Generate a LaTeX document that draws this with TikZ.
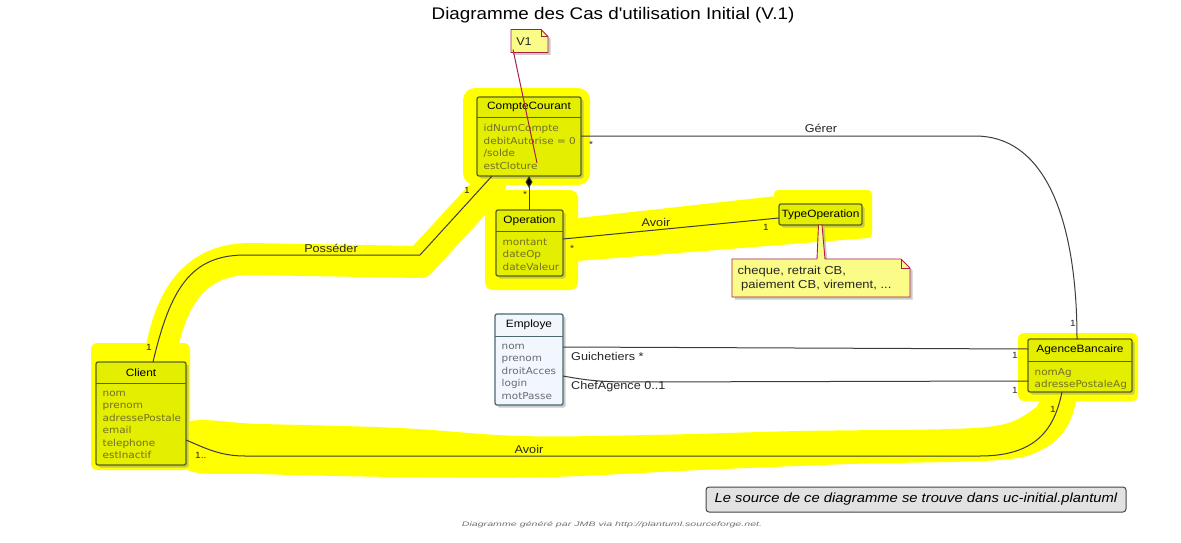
\documentclass[tikz,border=0pt]{standalone}
\usepackage{fontspec}
\setmainfont{Liberation Sans}[FakeStretch=1.12,Ligatures=TeXOff]
\newfontfamily\attrfont{DejaVu Sans}[FakeStretch=1.1]
\newfontfamily\tinyfont{Liberation Sans}[FakeStretch=1.64]
\usetikzlibrary{calc,shadows,arrows.meta}
\definecolor{hl}{RGB}{255,255,0}
\definecolor{clsfill}{RGB}{228,238,0}
\definecolor{clsline}{RGB}{90,100,20}
\definecolor{attrcol}{RGB}{112,112,40}
\definecolor{empfill}{RGB}{241,247,253}
\definecolor{empline}{RGB}{75,105,110}
\definecolor{empattr}{RGB}{105,105,115}
\definecolor{notefill}{RGB}{251,251,135}
\definecolor{noteline}{RGB}{170,30,70}
\definecolor{conncol}{RGB}{60,60,60}
\definecolor{boxfill}{RGB}{226,226,226}
\definecolor{boxline}{RGB}{70,70,70}
\definecolor{multcol}{RGB}{40,40,40}
\begin{document}
\begin{tikzpicture}[x=1pt,y=-1pt,
  shad/.style={drop shadow={shadow xshift=2.5pt,shadow yshift=-2.5pt,fill=black!45,opacity=0.45}},
  clsbox/.style={draw=clsline,line width=1.3pt,fill=clsfill,rounded corners=2pt,inner sep=0pt,outer sep=0pt,shad},
  empbox/.style={draw=empline,line width=1.3pt,fill=empfill,rounded corners=2pt,inner sep=0pt,outer sep=0pt,shad},
  clsname/.style={font=\fontsize{10.6}{12}\selectfont,inner sep=0pt,text=black},
  attr/.style={font=\attrfont\fontsize{9.5}{12.5}\selectfont,align=left,inner sep=0pt,anchor=north west,text=attrcol},
  mult/.style={font=\fontsize{9}{10}\selectfont,inner sep=0pt,text=multcol},
  lbl/.style={font=\fontsize{11.3}{13}\selectfont,inner sep=0pt,text=black!85},
  conn/.style={draw=conncol,line width=1pt},
  notepoly/.style={draw=noteline,line width=0.9pt,fill=notefill,shad},
  ghost/.style={inner sep=0pt,outer sep=0pt}
]
\useasboundingbox (0,0) rectangle (1181,543);
\fill[white] (0,0) rectangle (1181,543);

% ---------- highlighter marks ----------
\fill[hl,rounded corners=12pt] (463,88) rectangle (590,185);
\draw[hl,line width=32pt,line cap=round,line join=round] (158,372) .. controls (166,305) and (190,259) .. (250,259) -- (420,262) -- (490,186);
\fill[hl,rounded corners=8pt] (485,190) rectangle (578,290);
\fill[hl] (560,220) -- (776,196) -- (870,192) -- (868,238) -- (565,262) -- cycle;
\fill[hl,rounded corners=4pt] (774,190) rectangle (872,238);
\fill[hl,rounded corners=6pt] (91,343) rectangle (190,470);
\fill[hl] plot[smooth cycle,tension=0.55] coordinates {(186,423) (260,424) (400,428) (520,436) (650,435) (800,431) (950,429) (1005,424) (1035,408) (1045,394) (1075,394) (1068,425) (1045,448) (1000,460) (850,464) (700,470) (550,477) (400,477) (260,474) (186,469)};
\fill[hl,rounded corners=6pt] (1018,333) rectangle (1138,401);

% ---------- title ----------
\node[font=\fontsize{16.8}{20}\selectfont,inner sep=0pt] (title) at (613,15) {Diagramme des Cas d'utilisation Initial (V.1)};

% ---------- class boxes ----------
\node[clsbox,minimum width=104pt,minimum height=79pt] (cc) at (529,136.5) {};
\node[clsbox,minimum width=67pt,minimum height=66pt] (op) at (529.5,243) {};
\node[clsbox,minimum width=83pt,minimum height=21pt] (to) at (820.5,214.5) {};
\node[empbox,minimum width=68pt,minimum height=91pt] (emp) at (529,359.5) {};
\node[clsbox,minimum width=104pt,minimum height=53pt] (ab) at (1080,365.5) {};
\node[clsbox,minimum width=90pt,minimum height=103pt] (cl) at (141,413.5) {};

% separators
\draw[draw=clsline,line width=1pt] ($(cc.north west)+(0,20)$) -- ($(cc.north east)+(0,20)$);
\draw[draw=clsline,line width=1pt] ($(op.north west)+(0,21)$) -- ($(op.north east)+(0,21)$);
\draw[draw=empline,line width=1pt] ($(emp.north west)+(0,22)$) -- ($(emp.north east)+(0,22)$);
\draw[draw=clsline,line width=1pt] ($(ab.north west)+(0,22)$) -- ($(ab.north east)+(0,22)$);
\draw[draw=clsline,line width=1pt] ($(cl.north west)+(0,21)$) -- ($(cl.north east)+(0,21)$);

% class names
\node[clsname] (ccn) at ($(cc.north)+(0,10)$) {CompteCourant};
\node[clsname] (opn) at ($(op.north)+(0,10.5)$) {Operation};
\node[clsname] (ton) at (to.center) {TypeOperation};
\node[clsname] (empn) at ($(emp.north)+(0,11)$) {Employe};
\node[clsname] (abn) at ($(ab.north)+(0,11)$) {AgenceBancaire};
\node[clsname] (cln) at ($(cl.north)+(0,10.5)$) {Client};

% attributes
\node[attr] (cca) at ($(cc.north west)+(6.5,27.5)$) {idNumCompte\\debitAutorise = 0\\/solde\\estCloture};
\node[attr] (opa) at ($(op.north west)+(6.5,28.5)$) {montant\\dateOp\\dateValeur};
\node[attr,text=empattr] (empa) at ($(emp.north west)+(6.5,29.5)$) {nom\\prenom\\droitAcces\\login\\motPasse};
\node[attr] (aba) at ($(ab.north west)+(6.5,29)$) {nomAg\\adressePostaleAg};
\node[attr] (cla) at ($(cl.north west)+(6.5,28.5)$) {nom\\prenom\\adressePostale\\email\\telephone\\estInactif};

% ---------- connectors ----------
\draw[conn] ($(cl.north west)+(57,0)$) .. controls (170,290) and (190,255) .. (245,255) -- (420,255) -- ($(cc.south west)+(15,0)$);
\draw[conn,{Diamond[length=12pt,width=7pt,fill=black]}-] (cc.south) -- (cc.south |- op.north);
\draw[conn] ($(op.north east)+(0,29)$) -- ($(to.north west)+(0,14)$);
\draw[conn] ($(cc.north east)+(0,39)$) -- (975,136) .. controls (1050,136) and (1077,230) .. ($(ab.north west)+(49,0)$);
\draw[conn] ($(emp.north east)+(0,33)$) -- ($(ab.north west)+(0,10)$);
\draw[conn] ($(emp.north east)+(0,62)$) .. controls (585,380) and (600,382) .. (630,382) -- ($(ab.north west)+(0,42)$);
\draw[conn] ($(cl.north east)+(0,78)$) .. controls (205,448) and (220,456) .. (245,456) -- (980,456) .. controls (1040,456) and (1055,425) .. ($(ab.south west)+(34,0)$);

% ---------- association labels ----------
\node[lbl] (lposs) at (331,248) {Posséder};
\node[lbl] (lav1) at (656,222) {Avoir};
\node[lbl] (lger) at (821,128) {Gérer};
\node[lbl,anchor=west] (lgui) at (571,356) {Guichetiers *};
\node[lbl,anchor=west] (lchef) at (571,387) {ChefAgence 0..1};
\node[lbl] (lav2) at (529,449) {Avoir};

% multiplicities
\node[mult] (m1) at (149,347) {1};
\node[mult] (m2) at (467,190) {1};
\node[mult] (m3) at (525,194) {*};
\node[mult] (m4) at (572,248) {*};
\node[mult] (m5) at (766,227) {1};
\node[mult] (m6) at (591,144) {*};
\node[mult] (m7) at (1073,323) {1};
\node[mult] (m8) at (1015,355) {1};
\node[mult] (m9) at (1015,390) {1};
\node[mult] (m10) at (1053,409) {1};
\node[mult,anchor=west] (m11) at (195,455) {1..};

% ---------- notes ----------
\node[ghost,minimum width=37pt,minimum height=23pt] (v1) at (529.5,41) {};
\draw[notepoly] (v1.north west) -- ($(v1.north east)+(-7,0)$) -- ($(v1.north east)+(0,7)$) -- (v1.south east) -- (v1.south west) -- cycle;
\draw[draw=noteline,line width=0.8pt] ($(v1.north east)+(-7,0)$) -- ($(v1.north east)+(-7,7)$) -- ($(v1.north east)+(0,7)$);
\node[lbl] (v1t) at (524,42) {V1};
\coordinate (v1tgt) at (537,163);
\draw[draw=noteline,line width=1pt] ($(v1.south west)+(2,-3)$) -- (v1tgt);

\node[ghost,minimum width=178pt,minimum height=38pt] (tn) at (821,278) {};
\draw[notepoly] ($(tn.north)+(-4,0)$) -- ($(to.south)+(-2,0)$) -- ($(to.south)+(1.5,0)$) -- ($(tn.north)+(4,0)$) -- ($(tn.north east)+(-9,0)$) -- ($(tn.north east)+(0,9)$) -- (tn.south east) -- (tn.south west) -- (tn.north west) -- cycle;
\draw[draw=noteline,line width=0.8pt] ($(tn.north east)+(-9,0)$) -- ($(tn.north east)+(-9,9)$) -- ($(tn.north east)+(0,9)$);
\node[font=\fontsize{11.6}{14}\selectfont,align=left,inner sep=0pt,anchor=north west,text=black!85] (tnt) at (737.5,265.5) {cheque, retrait CB,\\\hspace*{3.5pt}paiement CB, virement, ...};

% ---------- footer ----------
\node[draw=boxline,line width=1pt,fill=boxfill,rounded corners=3pt,minimum width=420pt,minimum height=25pt,inner sep=0pt,font=\itshape\fontsize{13.2}{15}\selectfont] (src) at (916,499.5) {Le source de ce diagramme se trouve dans uc-initial.plantuml};
\node[font=\tinyfont\itshape\fontsize{6.5}{8}\selectfont,text=black!55,inner sep=0pt] (gen) at (612,525) {Diagramme généré par JMB via http://plantuml.sourceforge.net.};
\end{tikzpicture}
\end{document}
